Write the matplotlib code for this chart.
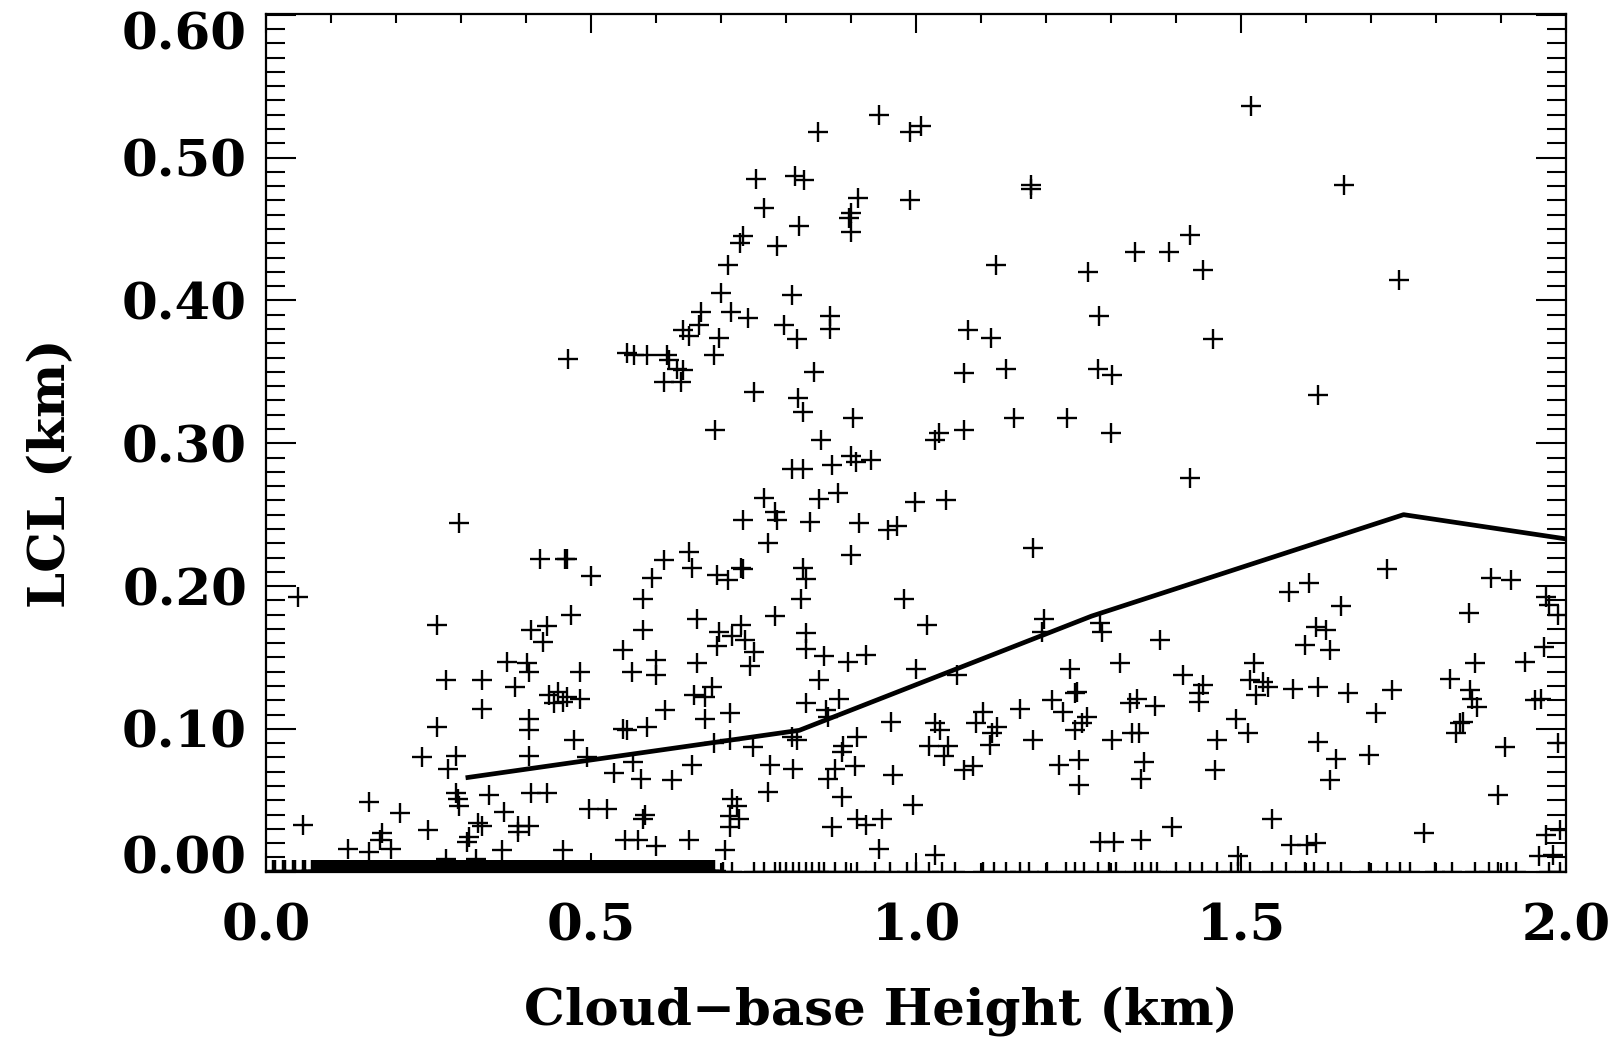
import matplotlib
matplotlib.use("Agg")
import matplotlib.pyplot as plt
import matplotlib.transforms as mtransforms
from matplotlib.ticker import MultipleLocator, FormatStrFormatter

# ---------------- data (km) ----------------
cloud_base = [
    0.942, 0.848, 0.991, 1.007, 0.754, 0.813, 0.827, 0.910, 0.899, 0.897, 0.900, 0.990, 0.765, 0.820,
    0.734, 0.729, 0.785, 0.711, 0.699, 0.809, 0.668, 0.665, 0.715, 0.741, 0.641, 0.651, 0.796, 0.868,
    0.868, 0.816, 0.697, 0.689, 0.464, 0.555, 0.565, 0.585, 0.617, 0.620, 0.631, 0.641, 0.612, 0.638,
    0.842, 0.751, 0.818, 0.826, 0.902, 0.690, 0.854,
    1.515, 1.177, 1.177, 1.658, 1.421, 1.336, 1.389, 1.122, 1.264, 1.442, 1.743, 1.281, 1.079, 1.115,
    1.456, 1.074, 1.138, 1.279, 1.301, 1.618, 1.150, 1.232, 1.029, 1.035, 1.073, 1.299,
    0.809, 0.826, 0.871, 0.899, 0.908, 0.930, 0.765, 0.851, 0.880, 0.782, 0.785, 0.734, 0.837, 0.912,
    0.956, 0.971, 0.998, 1.046, 0.297, 0.772, 0.899, 0.421, 0.459, 0.462, 0.500, 0.593, 0.612, 0.651,
    0.655, 0.693, 0.710, 0.730, 0.734, 0.826, 0.830, 0.823, 0.981, 0.579, 0.049, 0.262, 0.468, 0.407,
    0.431, 0.425, 0.579, 0.662, 0.782, 1.016, 0.696, 0.730, 0.717, 0.737, 0.693, 0.751, 0.830, 0.830,
    0.548, 0.370, 0.401, 0.404, 0.277, 0.332, 0.383, 0.435, 0.449, 0.456, 0.442, 0.462, 0.483, 0.483,
    0.562, 0.600, 0.600, 0.662, 0.744, 0.858, 0.895, 0.923, 0.851, 1.000, 0.686, 0.658, 0.675, 0.830,
    0.861, 0.881, 0.864, 0.614, 0.713, 0.675, 0.332, 0.404, 0.404, 0.262, 0.548, 0.555, 0.586, 0.961,
    1.029, 1.036, 0.473, 0.689, 0.713, 0.748, 0.809, 0.816, 0.888, 0.909, 0.885, 1.019, 1.043, 0.239,
    0.292, 0.280, 0.404, 0.493, 0.535, 0.564, 0.576, 0.624, 0.655, 0.775, 0.811, 0.875, 0.864, 0.906,
    0.964, 0.291, 0.294, 0.297, 0.342, 0.407, 0.431, 0.772, 0.157, 0.205, 0.366, 0.497, 0.524, 0.717,
    0.724, 0.713, 0.727, 0.885, 0.995, 0.583, 0.579, 0.056, 0.249, 0.325, 0.332, 0.387, 0.404, 0.713,
    0.871, 0.909, 0.923, 0.947, 0.177, 0.174, 0.126, 0.157, 0.191, 0.311, 0.308, 0.363, 0.387, 0.456,
    0.552, 0.572, 0.600, 0.651, 0.706, 0.943, 1.029, 0.277, 0.322,
    1.421, 1.180, 1.196, 1.194, 1.286, 1.283, 1.375, 1.725, 1.573, 1.605, 1.654, 1.884, 1.915, 1.851,
    1.969, 1.973, 1.987, 1.615, 1.630, 1.598, 1.637, 1.966, 1.937, 1.860, 1.063, 1.237, 1.313, 1.410,
    1.442, 1.520, 1.513, 1.534, 1.541, 1.523, 1.580, 1.619, 1.665, 1.732, 1.821, 1.852, 1.856, 1.863,
    1.952, 1.962, 1.837, 1.842, 1.831, 1.707, 1.492, 1.511, 1.463, 1.460, 1.618, 1.646, 1.637, 1.697,
    1.906, 1.987, 1.895, 1.244, 1.247, 1.209, 1.226, 1.262, 1.255, 1.244, 1.180, 1.159, 1.102, 1.092,
    1.124, 1.117, 1.113, 1.049, 1.074, 1.088, 1.329, 1.339, 1.368, 1.343, 1.332, 1.301, 1.219, 1.251,
    1.251, 1.350, 1.346, 1.435, 1.435, 1.393, 1.548, 1.283, 1.304, 1.346, 1.577, 1.601, 1.615, 1.782,
    1.969, 1.990, 1.959, 1.980, 1.495,
]
lcl = [
    0.530, 0.518, 0.518, 0.522, 0.485, 0.487, 0.484, 0.472, 0.461, 0.458, 0.448, 0.470, 0.465, 0.452,
    0.445, 0.440, 0.438, 0.425, 0.405, 0.404, 0.392, 0.383, 0.392, 0.388, 0.379, 0.375, 0.383, 0.389,
    0.380, 0.373, 0.374, 0.362, 0.359, 0.363, 0.362, 0.362, 0.362, 0.358, 0.352, 0.351, 0.343, 0.343,
    0.350, 0.336, 0.332, 0.322, 0.318, 0.309, 0.302,
    0.536, 0.481, 0.478, 0.481, 0.446, 0.434, 0.434, 0.425, 0.420, 0.421, 0.414, 0.389, 0.379, 0.374,
    0.373, 0.349, 0.352, 0.352, 0.348, 0.334, 0.318, 0.318, 0.302, 0.307, 0.309, 0.307,
    0.282, 0.282, 0.285, 0.291, 0.287, 0.288, 0.262, 0.261, 0.265, 0.252, 0.246, 0.246, 0.245, 0.244,
    0.239, 0.242, 0.259, 0.260, 0.244, 0.230, 0.222, 0.219, 0.219, 0.219, 0.207, 0.206, 0.218, 0.224,
    0.213, 0.208, 0.204, 0.213, 0.212, 0.213, 0.205, 0.191, 0.191, 0.191, 0.192, 0.173, 0.180, 0.169,
    0.172, 0.161, 0.169, 0.177, 0.179, 0.173, 0.168, 0.173, 0.165, 0.162, 0.158, 0.154, 0.167, 0.156,
    0.155, 0.147, 0.146, 0.140, 0.134, 0.134, 0.129, 0.124, 0.126, 0.119, 0.118, 0.122, 0.121, 0.140,
    0.140, 0.148, 0.138, 0.146, 0.144, 0.151, 0.147, 0.152, 0.134, 0.142, 0.129, 0.124, 0.122, 0.118,
    0.113, 0.121, 0.108, 0.113, 0.111, 0.107, 0.114, 0.107, 0.099, 0.101, 0.100, 0.099, 0.101, 0.105,
    0.104, 0.099, 0.092, 0.090, 0.092, 0.087, 0.094, 0.092, 0.088, 0.094, 0.084, 0.088, 0.081, 0.080,
    0.081, 0.072, 0.081, 0.080, 0.069, 0.077, 0.065, 0.064, 0.075, 0.075, 0.072, 0.072, 0.065, 0.074,
    0.068, 0.055, 0.051, 0.046, 0.054, 0.055, 0.055, 0.056, 0.049, 0.041, 0.042, 0.044, 0.044, 0.051,
    0.046, 0.039, 0.037, 0.052, 0.047, 0.040, 0.037, 0.033, 0.029, 0.034, 0.032, 0.032, 0.032, 0.031,
    0.031, 0.037, 0.033, 0.037, 0.027, 0.022, 0.016, 0.014, 0.016, 0.024, 0.021, 0.015, 0.028, 0.015,
    0.022, 0.022, 0.018, 0.022, 0.015, 0.016, 0.012, 0.009, 0.009,
    0.276, 0.227, 0.177, 0.168, 0.168, 0.174, 0.162, 0.212, 0.196, 0.202, 0.186, 0.206, 0.204, 0.181,
    0.192, 0.187, 0.180, 0.171, 0.169, 0.159, 0.155, 0.157, 0.147, 0.146, 0.138, 0.142, 0.146, 0.138,
    0.131, 0.146, 0.134, 0.133, 0.129, 0.124, 0.128, 0.129, 0.125, 0.127, 0.135, 0.127, 0.121, 0.115,
    0.120, 0.121, 0.104, 0.105, 0.097, 0.111, 0.107, 0.097, 0.092, 0.071, 0.091, 0.079, 0.064, 0.082,
    0.087, 0.090, 0.054, 0.125, 0.126, 0.120, 0.112, 0.108, 0.104, 0.099, 0.092, 0.114, 0.112, 0.104,
    0.101, 0.097, 0.089, 0.088, 0.071, 0.074, 0.118, 0.121, 0.116, 0.097, 0.097, 0.092, 0.075, 0.078,
    0.061, 0.077, 0.065, 0.125, 0.119, 0.031, 0.037, 0.021, 0.021, 0.022, 0.019, 0.019, 0.020, 0.027,
    0.026, 0.029, 0.011, 0.012, 0.011,
]

# cloud-base heights of the many cases whose LCL is zero (on the bottom axis), densely packed part
zero_cloud_base_dense = [
    0.012, 0.027, 0.042, 0.058,
    0.072, 0.076, 0.079, 0.083, 0.087, 0.091, 0.094, 0.098, 0.102, 0.106, 0.109, 0.113, 0.117, 0.121,
    0.124, 0.128, 0.132, 0.136, 0.139, 0.143, 0.147, 0.151, 0.154, 0.158, 0.162, 0.166, 0.169, 0.173,
    0.177, 0.181, 0.184, 0.188, 0.192, 0.196, 0.199, 0.203, 0.207, 0.211, 0.214, 0.218, 0.222, 0.226,
    0.229, 0.233, 0.237, 0.241, 0.244, 0.248, 0.252, 0.256, 0.259, 0.263, 0.267, 0.271, 0.274, 0.278,
    0.282, 0.286, 0.289, 0.293, 0.297, 0.301, 0.304, 0.308, 0.312, 0.316, 0.319, 0.323, 0.327, 0.331,
    0.334, 0.338, 0.342, 0.346, 0.349, 0.353, 0.357, 0.361, 0.364, 0.368, 0.372, 0.376, 0.379, 0.383,
    0.387, 0.391, 0.394, 0.398, 0.402, 0.406, 0.409, 0.413, 0.417, 0.421, 0.424, 0.428, 0.432, 0.436,
    0.439, 0.443, 0.447, 0.451, 0.454, 0.458, 0.462, 0.466, 0.469, 0.473, 0.477, 0.481, 0.484, 0.488,
    0.492, 0.496, 0.499, 0.503, 0.507, 0.511, 0.514, 0.518, 0.522, 0.526, 0.529, 0.533, 0.537, 0.541,
    0.544, 0.548, 0.552, 0.556, 0.559, 0.563, 0.567, 0.571, 0.574, 0.578, 0.582, 0.586, 0.589, 0.593,
    0.597, 0.601, 0.604, 0.608, 0.612, 0.616, 0.619, 0.623, 0.627, 0.631, 0.634, 0.638, 0.642, 0.646,
    0.649, 0.653, 0.657, 0.661, 0.664, 0.668, 0.672, 0.676, 0.679, 0.683, 0.687,
]
# ... and the sparser part further right
zero_cloud_base_sparse = [
    0.703, 0.717, 0.751, 0.765, 0.782, 0.790, 0.800, 0.810, 0.820, 0.830, 0.840, 0.850, 0.858, 0.875,
    0.892, 0.909, 0.937, 0.960, 0.985, 1.000, 1.020, 1.040, 1.060, 1.102, 1.120, 1.138, 1.159, 1.173,
    1.201, 1.230, 1.245, 1.258, 1.279, 1.297, 1.308, 1.336, 1.347, 1.361, 1.371, 1.400, 1.421, 1.440,
    1.463, 1.485, 1.495, 1.513, 1.548, 1.569, 1.598, 1.612, 1.633, 1.654, 1.697, 1.725, 1.745, 1.760,
    1.799, 1.824, 1.860, 1.881, 1.895, 1.909, 1.923, 1.973, 1.990,
]
ZERO_LCL = 0.0  # LCL value of all of the above cases

# binned mean curve
mean_cloud_base = [0.31, 0.82, 1.27, 1.75, 2.00]
mean_lcl = [0.066, 0.099, 0.179, 0.250, 0.233]

x_label = "Cloud\u2212base Height (km)"
y_label = "LCL (km)"

# ---------------- figure ----------------
FONT = "DejaVu Serif"
fig = plt.figure(figsize=(16.21, 10.40), dpi=100)
ax = fig.add_axes([0.1644, 0.1618, 0.8017, 0.8247])

mk = dict(marker="+", linestyle="none", color="black", markersize=15, markeredgewidth=1.7)
ax.plot(cloud_base, lcl, **mk)
ax.plot(zero_cloud_base_sparse, [ZERO_LCL] * len(zero_cloud_base_sparse), **mk)
mk_dense = dict(mk, markeredgewidth=3.2, markersize=18)
ax.plot(zero_cloud_base_dense, [ZERO_LCL] * len(zero_cloud_base_dense), **mk_dense)
ax.plot(mean_cloud_base, mean_lcl, color="black", linewidth=3.4, solid_joinstyle="round")

ax.set_xlim(0.0, 2.0)
ax.set_ylim(0.0, 0.6005)

ax.xaxis.set_major_locator(MultipleLocator(0.5))
ax.xaxis.set_minor_locator(MultipleLocator(0.1))
ax.yaxis.set_major_locator(MultipleLocator(0.1))
ax.yaxis.set_minor_locator(MultipleLocator(0.01))
ax.xaxis.set_major_formatter(FormatStrFormatter("%.1f"))
ax.yaxis.set_major_formatter(FormatStrFormatter("%.2f"))

ax.tick_params(axis="both", which="both", direction="in", top=True, right=True,
               color="black", width=1.5)
ax.tick_params(axis="x", which="major", length=13.7, pad=22)
ax.tick_params(axis="x", which="minor", length=6.5)
ax.tick_params(axis="y", which="major", length=21.6, pad=14)
ax.tick_params(axis="y", which="minor", length=13.7)

for lab in ax.get_xticklabels() + ax.get_yticklabels():
    lab.set_fontfamily(FONT)
    lab.set_fontweight("bold")
    lab.set_fontsize(37)

for sp in ax.spines.values():
    sp.set_linewidth(1.6)
    sp.set_color("black")

# IDL-style: end labels pushed inside the axis range
yticks = ax.yaxis.get_major_ticks()
locs = ax.yaxis.get_majorticklocs()
for t, v in zip(yticks, locs):
    if abs(v - 0.0) < 1e-9:
        t.label1.set_transform(t.label1.get_transform() +
                               mtransforms.ScaledTranslation(0, 17 / 100, fig.dpi_scale_trans))
    elif abs(v - 0.6) < 1e-9:
        t.label1.set_transform(t.label1.get_transform() +
                               mtransforms.ScaledTranslation(0, -16 / 100, fig.dpi_scale_trans))

ax.set_xlabel(x_label, fontfamily=FONT, fontweight="bold", fontsize=37)
ax.set_ylabel(y_label, fontfamily=FONT, fontweight="bold", fontsize=37)
ax.xaxis.label.set_va("center")
ax.yaxis.label.set_va("center")
ax.xaxis.set_label_coords(0.473, -0.162)
ax.yaxis.set_label_coords(-0.165, 0.465)

fig.savefig("out.png", dpi=100)
